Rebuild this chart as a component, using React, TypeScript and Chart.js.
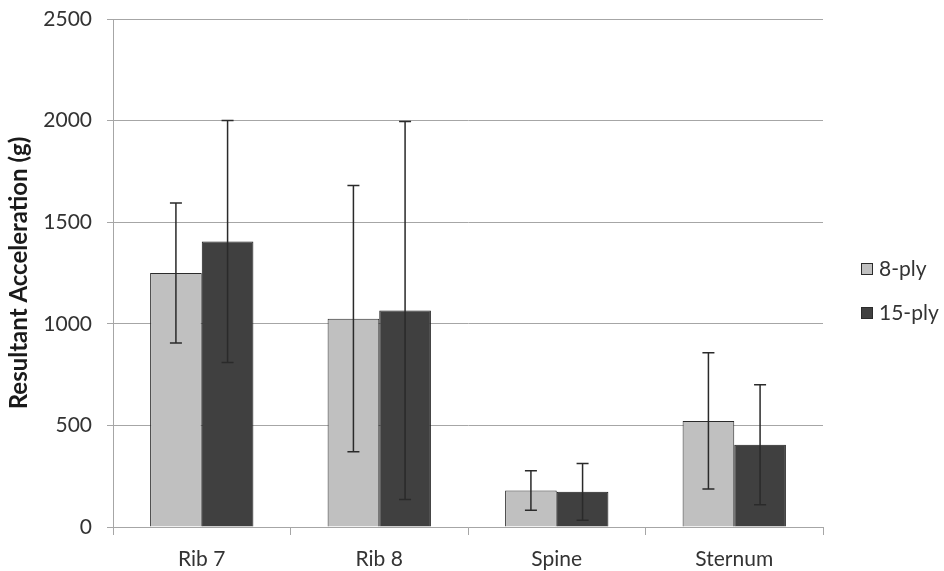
import React, { useEffect, useRef } from 'react';
import { Chart, registerables } from 'chart.js';

Chart.register(...registerables);

const categories = ['Rib 7', 'Rib 8', 'Spine', 'Sternum'];
const seriesNames = ['8-ply', '15-ply'];
const ply8Means = [1250, 1025, 180, 522];
const ply8Errors = [345, 655, 97, 335];
const ply15Means = [1405, 1065, 173, 405];
const ply15Errors = [595, 930, 140, 295];
const yMin = 0;
const yMax = 2500;
const yStep = 500;
const yTitle = 'Resultant Acceleration (g)';

const seriesColors = ['#c0c0c0', '#404040'];
const FONT = 'Lato, "Open Sans", sans-serif';

const errorBarPlugin = {
  id: 'errorBars',
  afterDatasetsDraw(chart: any) {
    const ctx = chart.ctx;
    const y = chart.scales.y;
    chart.data.datasets.forEach((ds: any, i: number) => {
      const meta = chart.getDatasetMeta(i);
      meta.data.forEach((bar: any, j: number) => {
        const v = ds.data[j];
        const e = ds.errors[j];
        const top = y.getPixelForValue(v + e);
        const bot = y.getPixelForValue(v - e);
        ctx.save();
        ctx.strokeStyle = '#2a2a2a';
        ctx.lineWidth = 1.5;
        ctx.beginPath();
        ctx.moveTo(bar.x, top);
        ctx.lineTo(bar.x, bot);
        ctx.moveTo(bar.x - 6, top);
        ctx.lineTo(bar.x + 6, top);
        ctx.moveTo(bar.x - 6, bot);
        ctx.lineTo(bar.x + 6, bot);
        ctx.stroke();
        ctx.restore();
      });
    });
  },
};

const legendPlugin = {
  id: 'sideLegend',
  afterDraw(chart: any) {
    const ctx = chart.ctx;
    const area = chart.chartArea;
    const x0 = area.right + 38;
    chart.data.datasets.forEach((ds: any, i: number) => {
      const cy = area.top + 250 + i * 44;
      ctx.save();
      ctx.fillStyle = ds.backgroundColor;
      ctx.strokeStyle = '#2b2b2b';
      ctx.lineWidth = 1;
      ctx.fillRect(x0, cy - 6, 12, 12);
      ctx.strokeRect(x0 + 0.5, cy - 5.5, 11, 11);
      ctx.fillStyle = '#333333';
      ctx.font = `21px ${FONT}`;
      ctx.textBaseline = 'middle';
      ctx.textAlign = 'left';
      ctx.fillText(ds.label, x0 + 18, cy);
      ctx.restore();
    });
  },
};

export default function App() {
  const ref = useRef<HTMLCanvasElement | null>(null);

  useEffect(() => {
    if (!ref.current) return;
    const chart = new Chart(ref.current, {
      type: 'bar',
      data: {
        labels: categories,
        datasets: [
          {
            label: seriesNames[0],
            data: ply8Means,
            errors: ply8Errors,
            backgroundColor: seriesColors[0],
            borderColor: '#2b2b2b',
            borderWidth: 1,
            categoryPercentage: 0.582,
            barPercentage: 1.0,
          } as any,
          {
            label: seriesNames[1],
            data: ply15Means,
            errors: ply15Errors,
            backgroundColor: seriesColors[1],
            borderColor: '#1a1a1a',
            borderWidth: 1,
            categoryPercentage: 0.582,
            barPercentage: 1.0,
          } as any,
        ],
      },
      options: {
        animation: false,
        responsive: true,
        maintainAspectRatio: false,
        layout: { padding: { top: 19, right: 121, bottom: 0, left: 0 } },
        plugins: {
          legend: { display: false },
          tooltip: { enabled: false },
        },
        scales: {
          x: {
            grid: {
              offset: true,
              drawOnChartArea: false,
              drawTicks: true,
              tickLength: 8,
              color: '#a6a6a6',
            },
            border: { display: true, color: '#a6a6a6' },
            ticks: {
              color: '#333333',
              font: { family: FONT, size: 21 },
              padding: 12,
            },
            afterFit(scale: any) {
              scale.height = 44;
            },
          },
          y: {
            min: yMin,
            max: yMax,
            ticks: {
              stepSize: yStep,
              color: '#333333',
              font: { family: FONT, size: 21 },
              padding: 15,
              callback: (v: any) => String(v),
            },
            grid: { color: '#a6a6a6', tickLength: 6 },
            border: { display: true, color: '#a6a6a6' },
            title: {
              display: true,
              text: yTitle,
              color: '#1a1a1a',
              font: { family: FONT, size: 24, weight: 'bold' },
              padding: { top: 5, bottom: 0 },
            },
            afterFit(scale: any) {
              scale.width = 113;
              scale.paddingTop = 0;
              scale.paddingBottom = 0;
            },
          },
        },
      } as any,
      plugins: [errorBarPlugin, legendPlugin],
    });
    return () => chart.destroy();
  }, []);

  return (
    <div style={{ position: 'fixed', left: 0, top: 0, width: 944, height: 571, background: '#fff' }}>
      <canvas ref={ref} />
    </div>
  );
}
